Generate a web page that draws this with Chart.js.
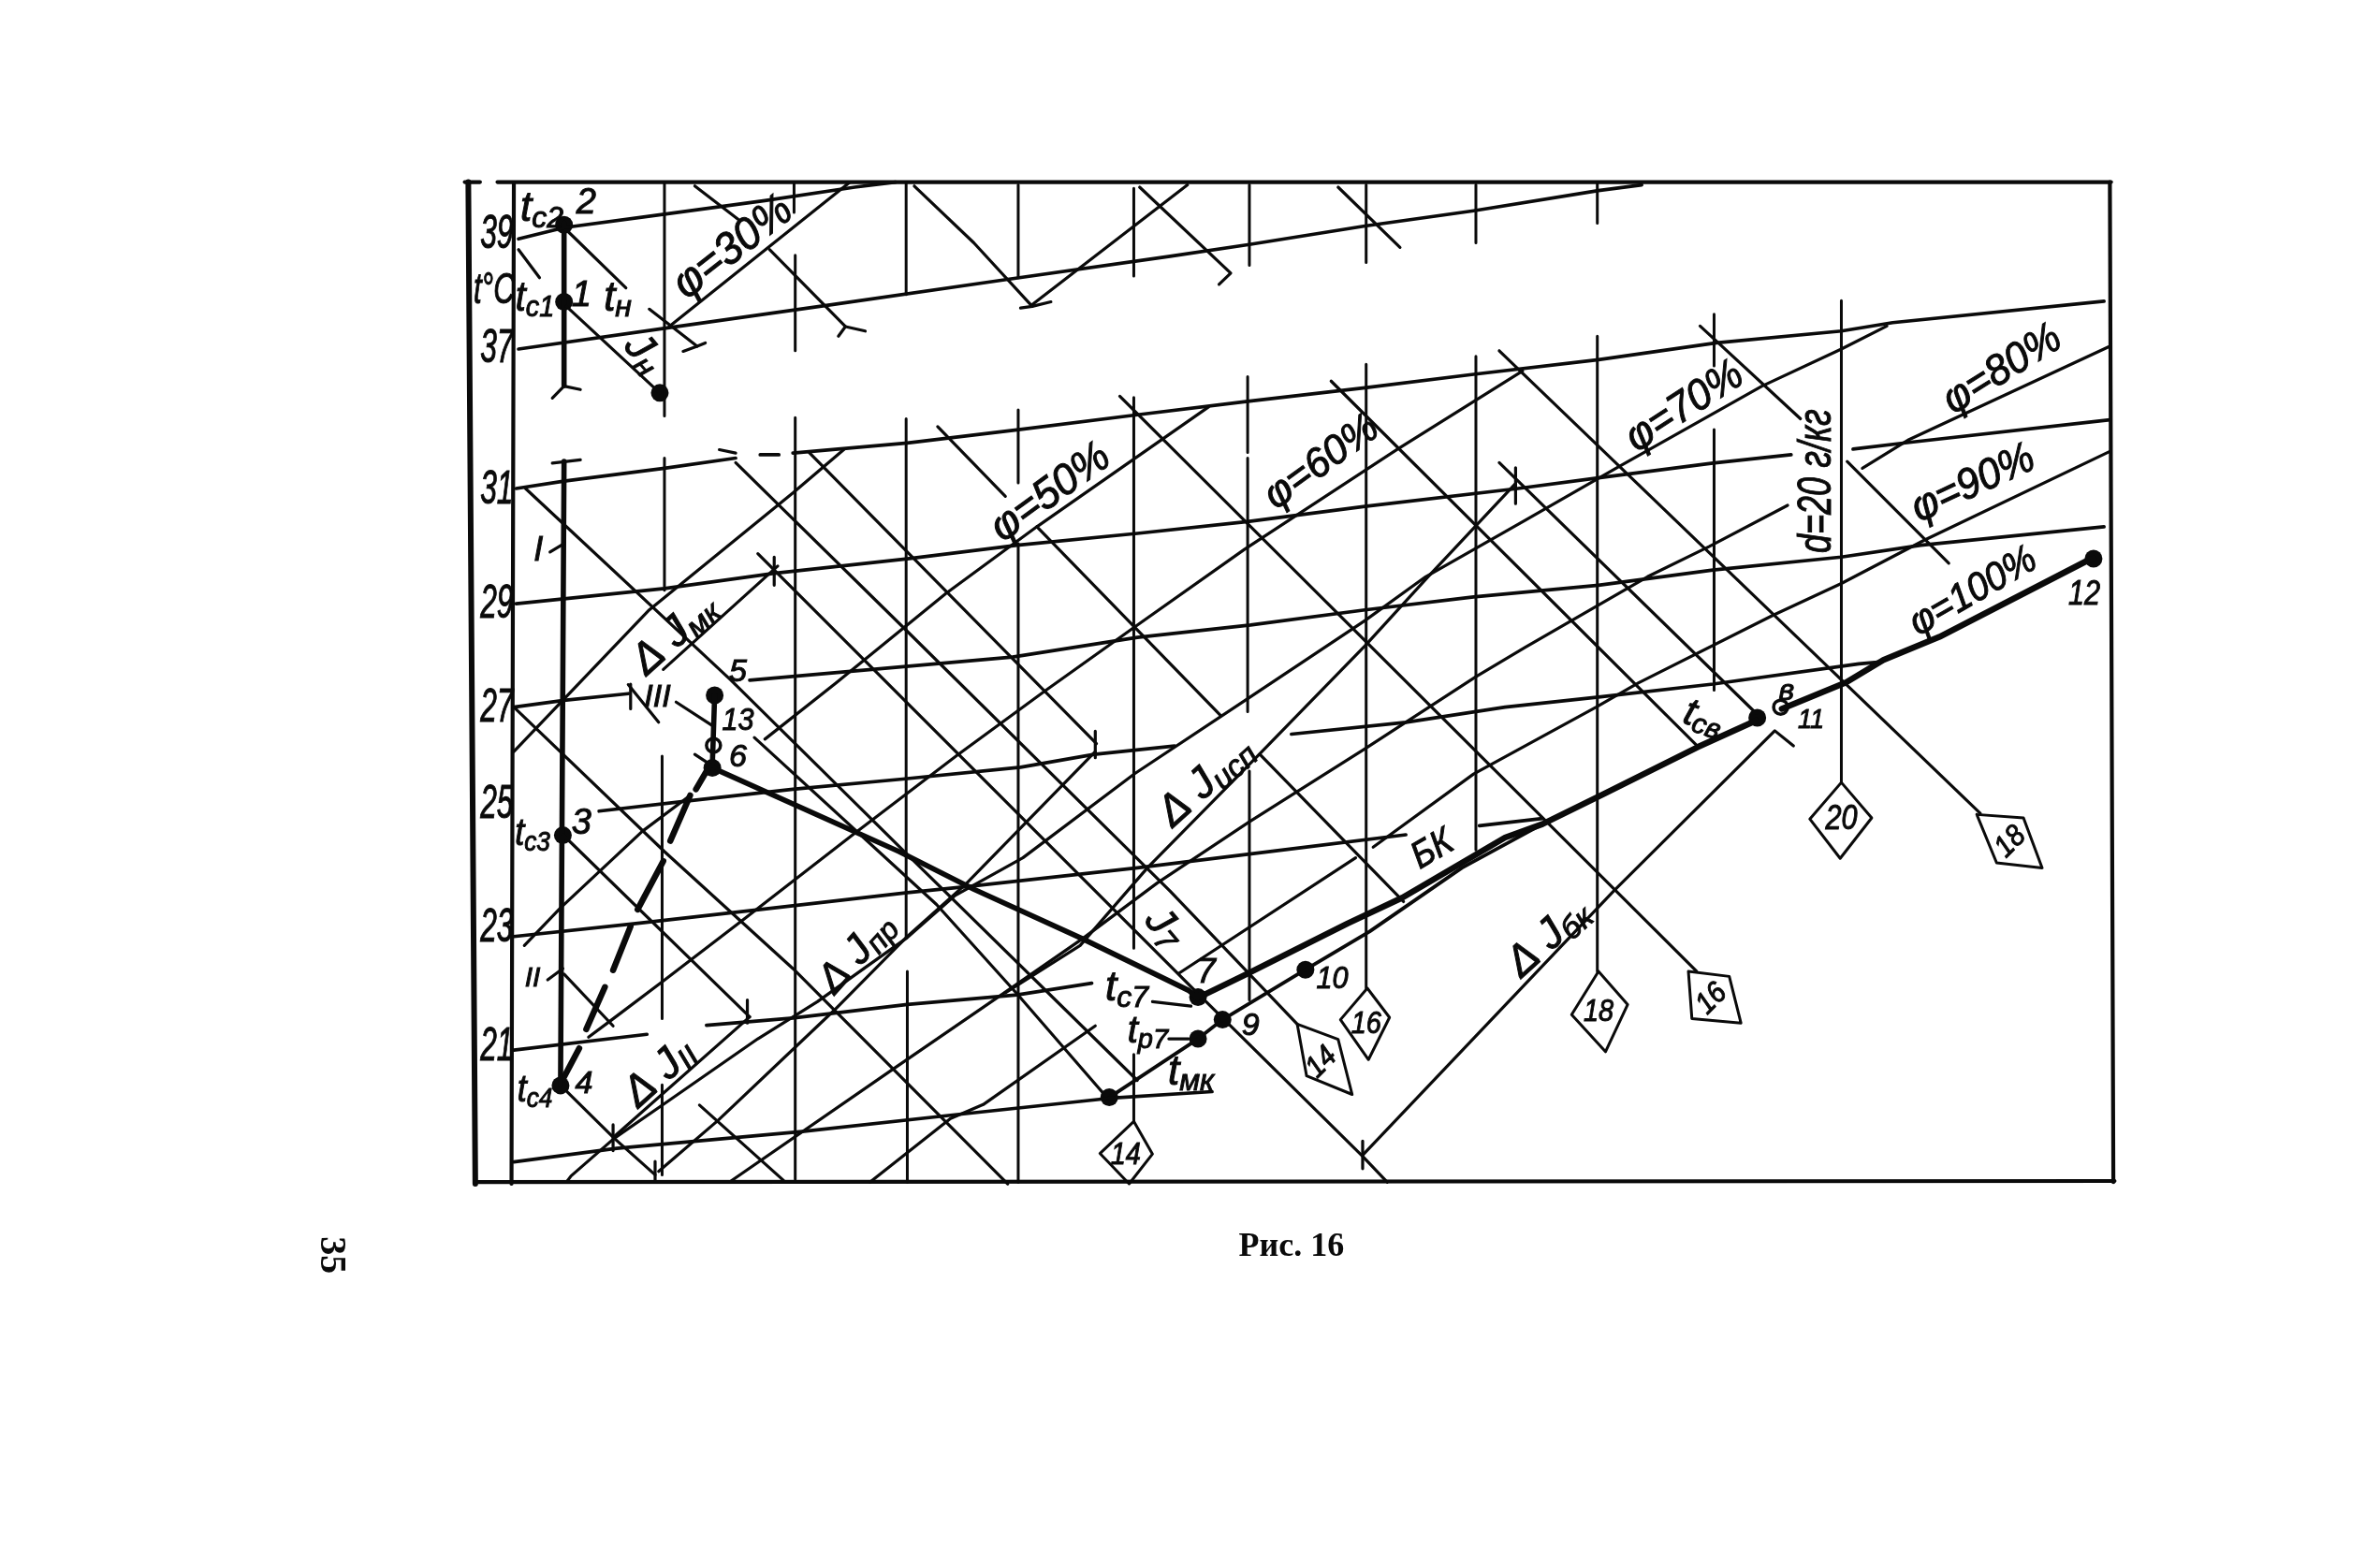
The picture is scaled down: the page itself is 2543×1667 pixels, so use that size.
<!DOCTYPE html>
<html>
<head>
<meta charset="utf-8">
<title>Рис. 16</title>
<script src="https://cdn.jsdelivr.net/npm/chart.js@4"></script>
<style>
  html, body { margin: 0; background: #fff; }
  canvas { display: block; }
</style>
</head>
<body>
<canvas id="chart" width="2543" height="1667"></canvas>
<script>
// x is moisture content d (g/kg), y is the height on the temperature axis (deg C, axis is cut between 31 and 37)
const tempTickPos = [21, 23.11, 25.32, 27.02, 28.88, 30.91, 33.42, 35.45]
const tempTickLabels = ['21', '23', '25', '27', '29', '31', '37', '39']

const frameLines = [
  [[8.69, 36.36], [8.67, 18.57]],
  [[8.27, 36.39], [8.40, 36.39]],
  [[8.55, 36.39], [22.37, 36.39]],
  [[8.36, 18.60], [22.40, 18.62]],
  [[22.36, 36.39], [22.39, 18.60]],
]
const outerAxis = [[8.30, 36.39], [8.36, 18.57]]

const moistureLines = [
  [[9.98, 36.39], [9.98, 32.23]], [[9.98, 31.48], [9.98, 29.13]], [[9.96, 26.18], [9.96, 21.51]], [[9.96, 20.33], [9.96, 18.73]],
  [[11.09, 36.39], [11.09, 35.85]], [[11.10, 35.09], [11.10, 33.39]], [[11.10, 32.20], [11.10, 18.65]],
  [[12.05, 36.39], [12.05, 34.39]], [[12.05, 32.18], [12.05, 22.95]], [[12.06, 22.35], [12.06, 18.60]],
  [[13.01, 36.34], [13.01, 34.69]], [[13.01, 32.34], [13.01, 31.04]], [[13.01, 29.96], [13.01, 18.60]],
  [[14, 36.28], [14, 34.72]], [[14, 32.56], [14, 22.76]], [[14, 20.87], [14, 19.68]],
  [[14.99, 36.34], [14.99, 34.91]], [[14.975, 32.93], [14.975, 31.58]], [[14.975, 31.48], [14.975, 26.97]], [[14.99, 25.91], [14.99, 21.84]],
  [[15.99, 36.34], [15.99, 34.96]], [[15.99, 33.15], [15.99, 22.05]],
  [[16.93, 36.34], [16.93, 35.31]], [[16.93, 33.29], [16.93, 24.51]],
  [[17.97, 36.39], [17.97, 35.66]], [[17.97, 33.65], [17.97, 22.35]],
  [[18.97, 34.04], [18.97, 33.12]], [[18.97, 31.99], [18.97, 27.35]],
  [[20.06, 34.28], [20.06, 25.70]],
]

const isotherms = [
  [[8.73, 35.38], [9.12, 35.58], [9.98, 35.82], [10.84, 36.06], [11.61, 36.30], [11.96, 36.39]],
  [[8.73, 33.42], [10.02, 33.80], [11.41, 34.21], [12.92, 34.66], [14.31, 35.07], [14.99, 35.28], [15.98, 35.61], [16.91, 35.88], [17.98, 36.24], [18.35, 36.34]],
  [[8.71, 30.94], [9.12, 31.07], [9.98, 31.30], [10.59, 31.48]],
  [[10.80, 31.54], [10.96, 31.54]],
  [[11.08, 31.57], [12.06, 31.75], [13.03, 31.99], [14.03, 32.25], [14.975, 32.49], [15.98, 32.73], [16.91, 32.97], [17.98, 33.23], [18.99, 33.53], [20.06, 33.74], [20.50, 33.89], [22.31, 34.27]],
  [[8.71, 28.89], [9.98, 29.16], [10.92, 29.43], [12.06, 29.69], [13.00, 29.93], [14.03, 30.14], [14.975, 30.35], [15.98, 30.62], [17.29, 30.94], [17.98, 31.13], [18.96, 31.39], [19.63, 31.54]],
  [[20.16, 31.64], [20.64, 31.76], [22.36, 32.16]],
  [[8.69, 27.05], [9.12, 27.17], [9.67, 27.29]],
  [[10.71, 27.53], [12.96, 27.94], [14.03, 28.29], [15.00, 28.51], [15.98, 28.78], [16.91, 29.01], [17.98, 29.22], [18.96, 29.49], [20.06, 29.72], [20.74, 29.93], [22.31, 30.26]],
  [[9.42, 25.20], [10.18, 25.38], [11.08, 25.59], [12.02, 25.77], [13.03, 25.98], [13.66, 26.21], [14.35, 26.36]],
  [[15.35, 26.57], [16.33, 26.78], [17.18, 27.05], [17.98, 27.23], [18.96, 27.46], [20.21, 27.82], [20.37, 27.85]],
  [[8.69, 22.97], [9.77, 23.21], [10.80, 23.45], [12.06, 23.75], [12.63, 23.87], [14.03, 24.19], [15.43, 24.55], [16.33, 24.78]],
  [[16.96, 24.94], [17.50, 25.07]],
  [[8.69, 20.95], [9.83, 21.23]],
  [[10.34, 21.39], [11.08, 21.52], [12.06, 21.76], [13.00, 21.93], [13.64, 22.14]],
  [[8.69, 18.96], [9.57, 19.20], [11.16, 19.50], [12.43, 19.79], [13.78, 20.09], [14.67, 20.21]],
]

const enthalpyLines = [
  [[8.73, 35.19], [8.91, 34.69]],
  [[9.12, 35.58], [9.65, 34.51]],
  [[9.14, 34.18], [9.94, 32.64]],
  [[10.24, 36.32], [10.61, 35.73]],
  [[10.88, 35.19], [11.53, 33.82]],
  [[11.47, 33.65], [11.53, 33.82], [11.70, 33.74]],
  [[9.85, 34.13], [10.26, 33.47]],
  [[10.14, 33.38], [10.26, 33.47], [10.33, 33.53]],
  [[12.12, 36.32], [12.63, 35.31], [13.13, 34.18]],
  [[13.03, 34.15], [13.13, 34.18], [13.29, 34.26]],
  [[14.05, 36.30], [14.83, 34.77], [14.73, 34.57]],
  [[15.75, 36.30], [16.28, 35.23]],
  [[8.79, 30.94], [10.55, 27.53], [12.06, 24.43], [14.03, 20.41]],
  [[10.59, 31.40], [12.02, 28.48], [14.31, 23.78], [15.40, 21.41]],
  [[11.22, 31.58], [13.68, 26.40]],
  [[10.78, 29.78], [14.55, 21.95], [15.96, 19.06], [16.17, 18.60]],
  [[8.69, 27.05], [9.98, 24.48], [11.08, 22.40], [12.92, 18.57]],
  [[9.11, 24.78], [10.71, 21.54]],
  [[9.12, 22.30], [9.54, 21.38]],
  [[9.14, 20.22], [9.55, 19.38], [9.90, 18.73]],
  [[10.28, 19.97], [11.00, 18.63]],
  [[9.67, 27.45], [9.93, 26.78]],
  [[10.08, 27.14], [10.39, 26.72]],
  [[10.75, 26.51], [12.31, 23.54], [13.00, 21.95], [13.78, 20.08]],
  [[12.32, 32.04], [12.90, 30.80]],
  [[13.17, 30.26], [14.74, 26.91]],
  [[15.08, 26.21], [16.31, 23.59]],
  [[13.88, 32.58], [18.82, 22.35]],
  [[15.69, 32.85], [18.82, 26.37]],
  [[17.13, 33.39], [21.25, 25.16]],
  [[17.13, 31.40], [19.33, 26.94]],
  [[18.85, 33.83], [19.71, 32.18]],
  [[20.11, 31.42], [20.98, 29.61]],
]

const humidityLines = [
  [[10.02, 33.82], [11.57, 36.39]],
  [[13.13, 34.21], [14.46, 36.34]],
  [[11.52, 31.64], [11.08, 30.86], [9.85, 28.78], [8.69, 26.26]],
  [[10.95, 29.56], [9.97, 27.72]],
  [[14.64, 32.39], [13.17, 30.26], [12.39, 29.07], [11.45, 27.48], [10.84, 26.48]],
  [[10.20, 25.48], [9.79, 24.84], [9.09, 23.48], [8.78, 22.81]],
  [[17.33, 33.03], [16.26, 31.64], [14.95, 29.86], [14.01, 28.48], [13.24, 27.34], [12.49, 26.20], [11.58, 24.76], [10.65, 23.26], [9.97, 22.18], [9.53, 21.49], [9.33, 21.18]],
  [[20.45, 33.83], [20.06, 33.42], [19.38, 32.76], [18.13, 31.30], [17.35, 30.37], [16.50, 29.37], [15.98, 28.59], [14.975, 27.20], [14.01, 25.87], [13.05, 24.37], [12.47, 23.70], [12.06, 22.95], [11.29, 21.81], [10.78, 21.15], [10.01, 20.04], [9.55, 19.38], [9.18, 18.71], [9.14, 18.60]],
  [[13.67, 26.26], [12.56, 23.90], [12.06, 22.97], [11.43, 21.65], [10.44, 19.70], [9.93, 18.79]],
  [[9.55, 19.41], [10.71, 21.54]],
  [[17.27, 31.03], [16.52, 29.37], [15.98, 28.14], [15.07, 26.20], [14.12, 24.20], [13.54, 22.81], [12.90, 21.97]],
  [[10.55, 18.62], [11.93, 20.60], [12.90, 21.98], [13.56, 22.93], [14.20, 23.92], [14.99, 25.01], [15.98, 26.31], [16.93, 27.59], [17.35, 28.11], [18.40, 29.37], [18.93, 29.91], [19.60, 30.64]],
  [[14.39, 22.32], [15.90, 24.37]],
  [[13.67, 21.38], [12.71, 19.98], [12.43, 19.73], [11.74, 18.60]],
  [[19.65, 26.36], [19.49, 26.63], [18.11, 23.78], [15.96, 19.08]],
  [[22.36, 33.47], [20.64, 31.81], [20.24, 31.30]],
  [[22.36, 31.60], [20.77, 30.02], [20.06, 29.25], [19.47, 28.68], [18.32, 27.48], [17.96, 27.05], [16.91, 25.86], [16.05, 24.56]],
]

const shortTicks = [
  [[9.54, 19.62], [9.54, 19.16]], [[9.90, 18.97], [9.90, 18.60]], [[10.69, 21.84], [10.69, 21.43]],
  [[13.67, 26.62], [13.67, 26.15]], [[10.92, 29.72], [10.92, 29.22]], [[9.69, 27.46], [9.69, 27.02]],
  [[17.27, 31.31], [17.27, 30.67]], [[15.96, 19.33], [15.96, 18.84]],
  [[9.00, 29.81], [9.12, 29.96]], [[8.98, 22.20], [9.11, 22.40]],
  [[14.16, 21.81], [14.49, 21.73]], [[14.30, 21.15], [14.47, 21.15]],
  [[9.02, 32.55], [9.12, 32.76], [9.26, 32.70]], [[9.02, 31.39], [9.26, 31.45]], [[10.45, 31.63], [10.59, 31.57]],
  [[10.24, 26.21], [10.46, 25.91]],
]

const tagOutlines = [
  [[14, 19.68], [13.71, 19.11], [13.96, 18.57], [14.16, 19.10], [14, 19.68]],
  [[16.00, 22.05], [15.77, 21.49], [16.01, 20.78], [16.19, 21.53], [16.00, 22.05]],
  [[17.98, 22.35], [17.75, 21.58], [18.04, 20.92], [18.23, 21.76], [17.98, 22.35]],
  [[20.06, 25.71], [19.79, 25.06], [20.05, 24.36], [20.32, 25.08], [20.06, 25.71]],
  [[15.40, 21.41], [15.75, 21.14], [15.87, 20.16], [15.48, 20.49], [15.40, 21.41]],
  [[18.75, 22.35], [19.10, 22.26], [19.20, 21.43], [18.78, 21.51], [18.75, 22.35]],
  [[21.22, 25.14], [21.62, 25.08], [21.78, 24.19], [21.39, 24.28], [21.22, 25.14]],
]

// air state path
const supplyPath = [[10.38, 25.98], [11.99, 24.48], [12.63, 23.81], [13.56, 22.93], [14.47, 22.01], [14.55, 21.87]]
const risePathA = [[14.55, 21.87], [14.60, 21.93], [14.975, 22.31], [15.83, 23.20], [16.30, 23.66], [17.18, 24.73], [17.50, 24.97], [18.03, 25.51], [18.83, 26.34], [19.33, 26.81]]
const risePathB = [[19.55, 27.02], [20.10, 27.49], [20.42, 27.89], [20.90, 28.30], [22.18, 29.67], [22.22, 29.69]]
const lowerPath = [[14.76, 21.49], [15.47, 22.38], [16.02, 23.06], [16.81, 24.19], [17.50, 24.97]]
const wetPath = [[13.80, 20.12], [14.55, 21.15], [14.76, 21.49]]
const heatingColumns = [
  [[9.12, 35.66], [9.12, 32.77]],
  [[9.12, 31.42], [9.09, 20.33]],
  [[10.41, 27.26], [10.39, 26.00]],
]
const mixingDashes = [
  [[9.11, 20.43], [9.25, 20.98]],
  [[9.31, 21.32], [9.47, 22.07]],
  [[9.54, 22.37], [9.69, 23.15]],
  [[9.75, 23.45], [9.97, 24.31]],
  [[10.03, 24.67], [10.20, 25.48]],
  [[10.25, 25.59], [10.36, 25.98]],
]

const statePointsD = [9.12, 9.12, 9.11, 9.09, 10.41, 10.39, 14.55, 14.55, 14.76, 15.47, 13.79, 19.34, 22.22, 9.94]
const statePointsT = [35.63, 34.26, 24.77, 20.32, 27.26, 25.97, 21.89, 21.15, 21.49, 22.38, 20.11, 26.86, 29.69, 32.64]
const ringPointsD = [10.40, 19.54]
const ringPointsT = [26.37, 27.05]

// text, subscript, d, t, angle, font size, width factor
const annotations = [
  ['φ=30%', '', 10.57, 35.22, -38, 48, 0.95], ['φ=50%', '', 13.29, 30.86, -36, 46, 0.98], ['φ=60%', '', 15.61, 31.40, -36, 44, 0.98],
  ['φ=70%', '', 18.72, 32.39, -33, 46, 0.94], ['φ=80%', '', 21.44, 33.05, -32, 46, 0.94], ['φ=90%', '', 21.19, 31.02, -25, 46, 0.94],
  ['φ=100%', '', 21.19, 29.10, -30, 42, 0.94], ['d=20 г/кг', '', 19.86, 31.07, -90, 50, 0.72],
  ['Δ J', 'мк', 10.07, 28.34, -42, 46, 1], ['Δ J', 'II', 9.94, 20.54, -42, 46, 1], ['Δ J', 'пр', 11.63, 22.67, -48, 44, 1],
  ['Δ J', 'исп', 14.62, 25.72, -42, 46, 1], ['Δ J', 'бк', 17.55, 22.94, -42, 46, 1],
  ['J', '7', 14.26, 23.12, 50, 44, 1], ['J', 'н', 9.80, 33.34, 50, 44, 1], ['БК', '', 16.56, 24.51, -30, 40, 0.9],
  ['t', 'св', 18.88, 26.86, 18, 42, 1], ['t', 'с2', 8.93, 35.90, 0, 44, 1], ['2', '', 9.31, 36.01, 0, 38, 1],
  ['t°C', '', 8.52, 34.45, 0, 46, 0.68], ['t', 'с1', 8.87, 34.31, 0, 44, 0.9], ['1', '', 9.27, 34.37, 0, 38, 1], ['t', 'н', 9.58, 34.31, 0, 44, 1],
  ['3', '', 9.27, 24.97, 0, 38, 1], ['t', 'с3', 8.85, 24.78, 0, 40, 0.9], ['4', '', 9.29, 20.35, 0, 34, 1], ['t', 'с4', 8.87, 20.22, 0, 40, 0.9],
  ['I', '', 8.90, 29.83, 0, 36, 1], ['II', '', 8.85, 22.22, 0, 30, 1], ['III', '', 9.92, 27.21, 0, 34, 1],
  ['5', '', 10.61, 27.67, 0, 34, 1], ['13', '', 10.61, 26.81, 0, 34, 0.9], ['6', '', 10.61, 26.16, 0, 34, 1],
  ['7', '', 14.62, 22.32, 0, 36, 1], ['t', 'с7', 13.94, 22.03, 0, 44, 1], ['t', 'р7', 14.12, 21.27, 0, 40, 1],
  ['9', '', 15.00, 21.38, 0, 34, 1], ['10', '', 15.70, 22.21, 0, 34, 0.9], ['t', 'мк', 14.49, 20.54, 0, 44, 1],
  ['в', '', 19.59, 27.32, 0, 32, 1], ['11', '', 19.80, 26.81, 0, 30, 0.9], ['12', '', 22.14, 29.05, 0, 36, 0.85],
  ['14', '', 13.93, 19.08, 0, 34, 0.85], ['16', '', 15.99, 21.40, 0, 34, 0.85], ['18', '', 17.98, 21.62, 0, 34, 0.85], ['20', '', 20.06, 25.05, 0, 36, 0.85],
  ['14', '', 15.61, 20.73, -45, 32, 0.9], ['16', '', 18.95, 21.86, -45, 32, 0.9], ['18', '', 21.51, 24.65, -45, 32, 0.9],
]
const captionText = 'Рис. 16'
const pageNumber = '35'

const ink = '#0a0a0a'
const handFont = '"Liberation Sans", sans-serif'

function lineSets(group, width) {
  return group.map(pts => ({
    data: pts.map(([x, y]) => ({ x, y })),
    showLine: true,
    pointRadius: 0,
    borderColor: ink,
    borderWidth: width,
    borderCapStyle: 'round',
    borderJoinStyle: 'round',
    clip: false,
  }))
}

function drawInk(ctx, text, x, y) {
  ctx.fillText(text, x, y)
  ctx.strokeText(text, x, y)
}

const textPlugin = {
  id: 'chartText',
  afterDatasetsDraw(chart) {
    const { ctx, scales } = chart
    ctx.save()
    ctx.fillStyle = ink
    ctx.strokeStyle = ink
    ctx.lineWidth = 1
    ctx.textBaseline = 'middle'
    // the axis labels are hand drawn and narrow, so they are placed from the scale's own ticks
    ctx.textAlign = 'right'
    ctx.font = `italic 48px ${handFont}`
    scales.y.ticks.forEach((tick, i) => {
      ctx.save()
      ctx.translate(scales.x.left - 3, scales.y.getPixelForValue(tick.value))
      ctx.scale(0.66, 1.05)
      drawInk(ctx, tempTickLabels[i], 0, 0)
      ctx.restore()
    })
    annotations.forEach(([text, sub, d, t, angle, size, narrow]) => {
      ctx.save()
      ctx.translate(scales.x.getPixelForValue(d), scales.y.getPixelForValue(t))
      ctx.rotate(angle * Math.PI / 180)
      ctx.scale(narrow, 1)
      const main = `italic ${size}px ${handFont}`
      const small = `italic ${Math.round(size * 0.72)}px ${handFont}`
      ctx.font = main
      const mainWidth = ctx.measureText(text).width
      ctx.font = small
      const subWidth = sub ? ctx.measureText(sub).width : 0
      const start = -(mainWidth + subWidth) / 2
      ctx.textAlign = 'left'
      ctx.font = main
      drawInk(ctx, text, start, 0)
      if (sub) {
        ctx.font = small
        drawInk(ctx, sub, start + mainWidth, size * 0.22)
      }
      ctx.restore()
    })
    ctx.textAlign = 'center'
    ctx.font = 'bold 36px "Liberation Serif", serif'
    ctx.fillText(captionText, scales.x.getPixelForValue(15.35), scales.y.getPixelForValue(17.44))
    ctx.translate(scales.x.getPixelForValue(7.12), scales.y.getPixelForValue(17.30))
    ctx.rotate(Math.PI / 2)
    ctx.font = 'bold 40px "Liberation Serif", serif'
    ctx.fillText(pageNumber, 0, 0)
    ctx.restore()
  },
}

new Chart(document.getElementById('chart'), {
  type: 'scatter',
  data: {
    datasets: [
      ...lineSets(frameLines, 4.2),
      ...lineSets([outerAxis], 6),
      ...lineSets(moistureLines, 3),
      ...lineSets(isotherms, 3.7),
      ...lineSets(enthalpyLines, 3.2),
      ...lineSets(humidityLines, 3.2),
      ...lineSets(shortTicks, 3.2),
      ...lineSets(tagOutlines, 3),
      ...lineSets([supplyPath], 5.6),
      ...lineSets([risePathA, risePathB], 6.5),
      ...lineSets([lowerPath, wetPath], 3.8),
      ...lineSets(heatingColumns, 5.6),
      ...lineSets(mixingDashes, 6.5),
      {
        data: statePointsD.map((x, i) => ({ x, y: statePointsT[i] })),
        pointRadius: 9.5,
        pointBackgroundColor: ink,
        pointBorderWidth: 0,
        clip: false,
      },
      {
        data: ringPointsD.map((x, i) => ({ x, y: ringPointsT[i] })),
        pointRadius: 7.5,
        pointBackgroundColor: '#fff',
        pointBorderColor: ink,
        pointBorderWidth: 3.5,
        clip: false,
      },
    ],
  },
  options: {
    responsive: false,
    animation: false,
    layout: { padding: { left: 500, right: 285.5, top: 194.6, bottom: 403.6 } },
    plugins: { legend: { display: false }, tooltip: { enabled: false } },
    scales: {
      x: { type: 'linear', min: 8.709, max: 22.385, display: false },
      y: {
        type: 'linear',
        min: 18.597,
        max: 36.39,
        grid: { display: false, drawTicks: false },
        border: { display: false },
        afterFit(scale) { scale.width = 51.4 },
        afterBuildTicks(scale) { scale.ticks = tempTickPos.map(value => ({ value })) },
        ticks: { display: false, autoSkip: false },
      },
    },
  },
  plugins: [textPlugin],
})
</script>
</body>
</html>
